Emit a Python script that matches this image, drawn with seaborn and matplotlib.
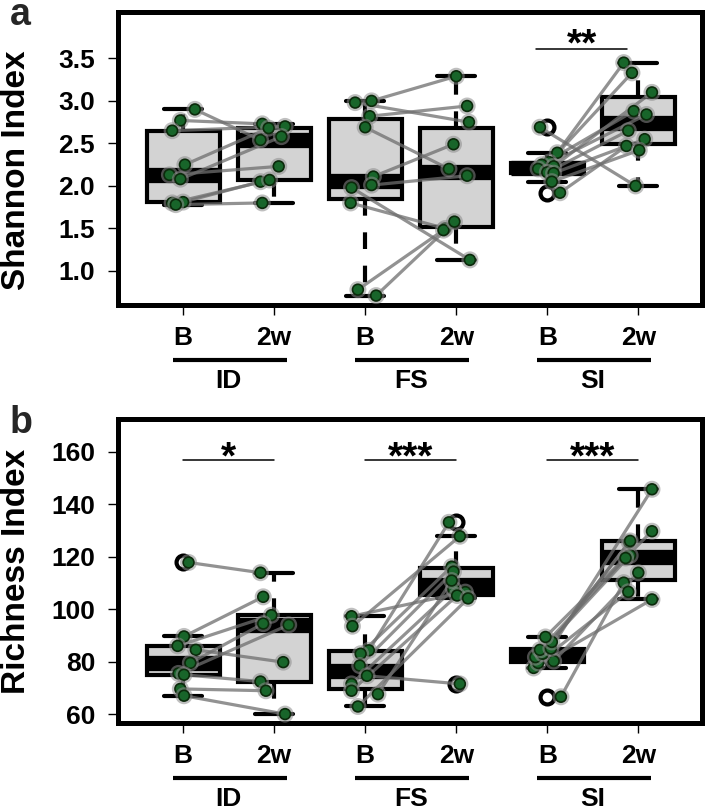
import matplotlib
matplotlib.use("Agg")
import matplotlib.pyplot as plt
import matplotlib.transforms as mtransforms
import matplotlib.patheffects as pe
import numpy as np
import pandas as pd
import seaborn as sns

# ---------------- data ----------------
groups = ["ID", "FS", "SI"]
times = ["B", "2w"]

# Panel a: Shannon index (values listed per subject, B and 2w paired by position)
sh_ID_B = [2.90, 2.77, 2.65, 2.25, 2.13, 2.08, 1.81, 1.80, 1.78]
sh_ID_2w = [2.54, 2.73, 2.70, 2.68, 2.23, 2.58, 2.05, 2.07, 1.80]
sh_FS_B = [3.00, 2.98, 2.82, 2.69, 2.11, 2.01, 1.98, 1.80, 0.78, 0.71]
sh_FS_2w = [3.29, 2.75, 2.94, 2.20, 2.49, 2.12, 1.13, 1.50, 1.48, 1.58]
sh_SI_B = [2.69, 1.92, 2.39, 2.28, 2.25, 2.23, 2.20, 2.16, 2.15, 2.05]
sh_SI_2w = [2.00, 2.47, 3.45, 3.33, 2.88, 3.10, 2.84, 2.65, 2.55, 2.42]

# horizontal jitter of the points (category units)
jit_sh_ID_B = [0.13, -0.03, -0.12, 0.02, -0.15, -0.03, 0.00, -0.12, -0.08]
jit_sh_ID_2w = [-0.15, -0.13, 0.12, -0.06, 0.05, 0.08, -0.15, -0.05, -0.13]
jit_sh_FS_B = [0.07, -0.11, 0.05, 0.00, 0.09, 0.07, -0.15, -0.16, -0.08, 0.12]
jit_sh_FS_2w = [0.00, 0.14, 0.12, -0.08, -0.03, 0.12, 0.15, -0.12, -0.14, -0.02]
jit_sh_SI_B = [-0.08, 0.14, 0.11, 0.02, -0.06, 0.07, -0.10, 0.00, 0.07, 0.05]
jit_sh_SI_2w = [-0.03, -0.13, -0.16, -0.07, -0.05, 0.15, 0.09, -0.11, 0.07, 0.01]

# Panel b: Richness index
ri_ID_B = [117.8, 89.6, 86.0, 84.5, 79.5, 75.5, 75.0, 69.6, 67.0]
ri_ID_2w = [113.9, 104.7, 97.7, 79.8, 94.5, 94.0, 72.4, 68.9, 60.0]
ri_FS_B = [97.3, 93.5, 84.3, 83.0, 78.5, 74.6, 71.5, 68.9, 67.6, 62.9]
ri_FS_2w = [106.5, 127.8, 133.1, 116.2, 114.3, 71.5, 107.7, 105.2, 110.9, 104.1]
ri_SI_B = [66.6, 77.6, 79.5, 80.2, 81.7, 83.0, 84.5, 85.0, 87.5, 89.4]
ri_SI_2w = [110.1, 103.7, 106.6, 113.9, 120.5, 125.5, 119.5, 145.7, 126.0, 129.7]

jit_ri_ID_B = [0.06, 0.01, -0.06, 0.14, 0.08, -0.05, 0.01, -0.03, 0.01]
jit_ri_ID_2w = [-0.15, -0.12, -0.03, 0.10, -0.12, 0.16, -0.15, -0.09, 0.12]
jit_ri_FS_B = [-0.15, -0.14, 0.04, -0.05, -0.06, 0.02, -0.15, -0.15, 0.14, -0.08]
jit_ri_FS_2w = [0.10, 0.04, -0.08, -0.05, -0.03, 0.04, -0.03, 0.01, -0.05, 0.13]
jit_ri_SI_B = [0.15, -0.15, -0.10, 0.07, -0.13, -0.05, -0.08, 0.04, 0.05, -0.02]
jit_ri_SI_2w = [-0.16, 0.15, -0.11, 0.00, -0.09, -0.10, -0.14, 0.15, -0.09, 0.15]

sh_yticks = [1.0, 1.5, 2.0, 2.5, 3.0, 3.5]
ri_yticks = [60, 80, 100, 120, 140, 160]

# significance marks: (group, label)
sh_sig = [("SI", "**")]
ri_sig = [("ID", "*"), ("FS", "***"), ("SI", "***")]

panel_a = {
    "ID": (sh_ID_B, sh_ID_2w, jit_sh_ID_B, jit_sh_ID_2w),
    "FS": (sh_FS_B, sh_FS_2w, jit_sh_FS_B, jit_sh_FS_2w),
    "SI": (sh_SI_B, sh_SI_2w, jit_sh_SI_B, jit_sh_SI_2w),
}
panel_b = {
    "ID": (ri_ID_B, ri_ID_2w, jit_ri_ID_B, jit_ri_ID_2w),
    "FS": (ri_FS_B, ri_FS_2w, jit_ri_FS_B, jit_ri_FS_2w),
    "SI": (ri_SI_B, ri_SI_2w, jit_ri_SI_B, jit_ri_SI_2w),
}

cats = [f"{g}-{t}" for g in groups for t in times]


def build(panel):
    rows = []
    for gi, g in enumerate(groups):
        b, w, jb, jw = panel[g]
        for ti, (vals, jit) in enumerate(((b, jb), (w, jw))):
            for si, (v, j) in enumerate(zip(vals, jit)):
                rows.append(dict(cat=f"{g}-{times[ti]}", subject=f"{g}{si}",
                                 value=v, xpos=2 * gi + ti + j))
    return pd.DataFrame(rows)


# ---------------- style ----------------
sns.set_theme(style="ticks")
plt.rcParams["font.family"] = ["Liberation Sans", "DejaVu Sans"]
plt.rcParams["font.weight"] = "bold"

fig = plt.figure(figsize=(7.08, 8.10), dpi=100)
ax_a = fig.add_axes([0.166, 0.6235, 0.8256, 0.3611])
ax_b = fig.add_axes([0.166, 0.1074, 0.8256, 0.3747])

PX = 1 / 100.0  # inches per pixel


def draw(ax, df, ylim, yticks, yfmt, ylabel, sigs, sig_y, star_y, label_y):
    sns.boxplot(data=df, x="cat", y="value", order=cats, color="#d3d3d3",
                saturation=1, linecolor="black", linewidth=3, width=0.8,
                whis=1.5, ax=ax,
                medianprops=dict(linewidth=11),
                whiskerprops=dict(linestyle=(0, (4, 4))),
                flierprops=dict(marker="o", markerfacecolor="none",
                                markeredgecolor="black", markeredgewidth=3,
                                markersize=10),
                capwidths=0.42)
    sns.lineplot(data=df, x="xpos", y="value", units="subject",
                 estimator=None, color="#6e6e6e", alpha=0.75, linewidth=2.3,
                 ax=ax, legend=False, zorder=3)
    sns.scatterplot(data=df, x="xpos", y="value", color="#18652a",
                    edgecolor="#0b2a0b", linewidth=1.2, s=60, ax=ax,
                    legend=False, zorder=4)
    ax.collections[-1].set_path_effects(
        [pe.withStroke(linewidth=4.5, foreground=(0.55, 0.55, 0.55, 0.55))])

    ax.set_xlim(-0.72, 5.70)
    ax.set_ylim(*ylim)
    ax.set_yticks(yticks, labels=[yfmt.format(t) for t in yticks])
    ax.set_xticks(range(6), labels=times * 3)
    ax.tick_params(axis="both", length=7.2, width=1.0, color="black",
                   labelsize=19, labelcolor="black")
    ax.tick_params(axis="y", pad=9)
    ax.tick_params(axis="x", pad=8)
    for lab in ax.get_xticklabels() + ax.get_yticklabels():
        lab.set_fontweight("bold")
    ax.set_xlabel("")
    ax.set_ylabel(ylabel, fontsize=24, fontweight="bold", color="black")
    ax.yaxis.set_label_coords(-0.147, label_y)
    for sp in ax.spines.values():
        sp.set_visible(True)
        sp.set_linewidth(3.6)
        sp.set_color("black")
    ax.set_facecolor("white")

    # group underlines and labels below the axis
    trans_line = ax.get_xaxis_transform() + mtransforms.ScaledTranslation(
        0, -55 * PX, fig.dpi_scale_trans)
    trans_lab = ax.get_xaxis_transform() + mtransforms.ScaledTranslation(
        0, -76 * PX, fig.dpi_scale_trans)
    for gi, g in enumerate(groups):
        x0 = 2 * gi
        ax.plot([x0 - 0.11, x0 + 1.14], [0, 0], transform=trans_line,
                color="black", lw=3.0, clip_on=False, solid_capstyle="butt")
        ax.text(x0 + 0.5, 0, g, transform=trans_lab, ha="center", va="center",
                fontsize=19, fontweight="bold", color="black")

    # significance marks
    for g, s in sigs:
        gi = groups.index(g)
        x0 = 2 * gi + sig_y[1]
        ax.plot([x0, x0 + 1.0], [sig_y[0], sig_y[0]], color="black", lw=1.1)
        ax.text(x0 + 0.5, star_y, s, ha="center", va="baseline", fontsize=28,
                fontweight="bold", color="black")


df_a = build(panel_a)
df_b = build(panel_b)

draw(ax_a, df_a, (0.60, 4.04), sh_yticks, "{:.1f}", "Shannon Index",
     sh_sig, (3.61, -0.12), 3.53, 0.46)
draw(ax_b, df_b, (56.6, 172.3), ri_yticks, "{:.0f}", "Richness Index",
     ri_sig, (156.8, 0.0), 153.6, 0.5)

fig.text(10 / 708, 1 - 25 / 810, "a", fontsize=27, fontweight="bold",
         va="baseline", ha="left")
fig.text(10 / 708, 1 - 433 / 810, "b", fontsize=27, fontweight="bold",
         va="baseline", ha="left")

fig.savefig("out.png", dpi=100, facecolor="white")
